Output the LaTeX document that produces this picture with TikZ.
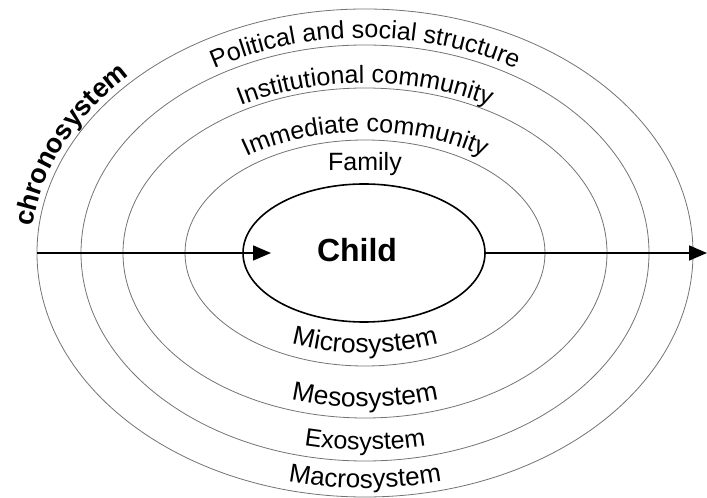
\documentclass[tikz,border=0pt]{standalone}
\usepackage{fontspec}
\setmainfont{Liberation Sans}
\usetikzlibrary{shapes.geometric,arrows.meta,decorations.text,calc}
\newcommand\lblfont{\fontsize{25}{25}\selectfont}
\newcommand\chronofont{\fontsize{27}{27}\selectfont\bfseries}
\newcommand\toplbl[3]{\path[decorate,decoration={text along path,text align=center,text={|\lblfont|#3}}]
  ($(c)+(150:#1 and #2)$) arc[start angle=150,end angle=30,x radius=#1,y radius=#2];}
\newcommand\botlbl[4]{\path[decorate,decoration={text along path,text align=center,text={|\fontsize{#3}{#3}\selectfont|#4}}]
  ($(c)+(215:#1 and #2)$) arc[start angle=215,end angle=325,x radius=#1,y radius=#2];}
\begin{document}
\begin{tikzpicture}[x=1pt,y=1pt,
  ring/.style={draw=black!55, line width=0.8pt, ellipse, inner sep=0pt, outer sep=0pt},
  childring/.style={draw=black, line width=1.6pt, ellipse, inner sep=0pt, outer sep=0pt},
  conn/.style={line width=1.6pt, -{Triangle[length=18pt,width=15pt]}},
  lbl/.style={font=\lblfont, inner sep=0pt, anchor=base}]
\useasboundingbox (0,0) rectangle (707,498);
\coordinate (c) at (365,245);
\node[ring, minimum width=656pt, minimum height=488pt] (macro) at (c) {};
\node[ring, minimum width=568pt, minimum height=416pt] (exo) at (c) {};
\node[ring, minimum width=484pt, minimum height=330pt] (meso) at (c) {};
\node[ring, minimum width=360pt, minimum height=226pt] (micro) at (c) {};
\node[childring, minimum width=242pt, minimum height=138pt] (child) at (364,245) {};
\node[font=\fontsize{32}{32}\selectfont\bfseries, inner sep=0pt] (childtxt) at (357,248) {Child};
\coordinate (tin) at (271,245);
\coordinate (tout) at (707,245);
\draw[conn] (macro.west) -- (tin);
\draw[conn] (child.east) -- (tout);
% top labels
\toplbl{293}{215}{Political and social structure}
\toplbl{248}{170}{Institutional community}
\toplbl{195}{121}{Immediate community}
\node[lbl] (family) at (365,327) {Family};
% bottom labels
\botlbl{172}{100}{26.5}{Microsystem}
\botlbl{232}{154}{26.5}{Mesosystem}
\botlbl{275}{197}{25}{Exosystem}
\botlbl{318}{235}{26}{Macrosystem}
% chronosystem
\path[decorate,decoration={text along path,text align=left,text={|\chronofont|chronosystem}}]
  ($(c)+(174:334 and 250)$) arc[start angle=174,end angle=110,x radius=334,y radius=250];
\end{tikzpicture}
\end{document}
